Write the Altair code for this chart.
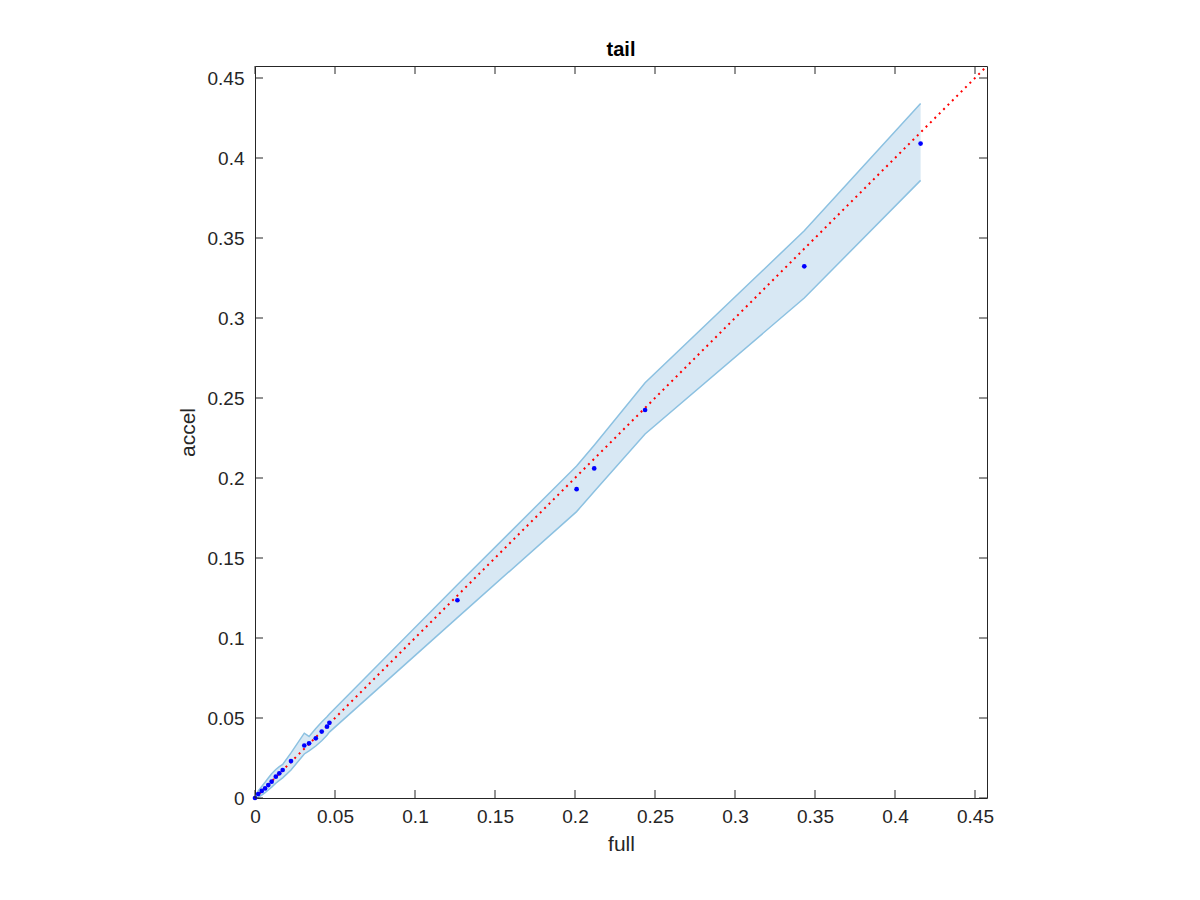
import altair as alt
import pandas as pd

# data
full = [0, 0.002, 0.0042, 0.0063, 0.0083, 0.0104, 0.013, 0.0152, 0.0173, 0.0225,
        0.0308, 0.0338, 0.038, 0.0417, 0.045, 0.0465, 0.1265, 0.201, 0.212,
        0.2438, 0.3433, 0.416]
accel = [0, 0.0025, 0.0044, 0.006, 0.0081, 0.0102, 0.0133, 0.0154, 0.0175, 0.0231,
         0.0328, 0.0342, 0.0373, 0.0415, 0.0446, 0.047, 0.1236, 0.193, 0.206,
         0.2425, 0.3323, 0.409]
upper = [0, 0.0045, 0.0072, 0.0098, 0.0125, 0.0152, 0.0178, 0.0196, 0.021, 0.0282,
         0.0405, 0.0385, 0.0435, 0.0475, 0.0508, 0.0525, 0.1333, 0.2075, 0.2205,
         0.2595, 0.3545, 0.434]
lower = [0, 0.0005, 0.0018, 0.0033, 0.005, 0.0068, 0.0092, 0.011, 0.0126, 0.0175,
         0.0275, 0.0295, 0.0325, 0.0358, 0.0392, 0.0412, 0.1127, 0.179, 0.1915,
         0.2275, 0.3125, 0.386]
ticks = [0, 0.05, 0.1, 0.15, 0.2, 0.25, 0.3, 0.35, 0.4, 0.45]
lim = [0, 0.4575]

W = 732
H = 732
FONT = "Liberation Sans"
AX = "#262626"

df = pd.DataFrame({"full": full, "accel": accel, "upper": upper, "lower": lower})
diag = pd.DataFrame({"full": lim, "accel": lim})
tk = pd.DataFrame({"t": ticks})

xs = alt.Scale(domain=lim, nice=False, zero=False)
ys = alt.Scale(domain=lim, nice=False, zero=False)

xax = alt.Axis(values=ticks, format="~g", domain=False, ticks=False, grid=False,
               labelPadding=9, title="full", titlePadding=7, labelFlush=False)
yax = alt.Axis(values=ticks, format="~g", domain=False, ticks=False, grid=False,
               labelPadding=11, title="accel", titlePadding=9, labelFlush=False)

base = alt.Chart(df)

band = base.mark_area(color="#d8e8f4", opacity=1).encode(
    x=alt.X("full:Q", scale=xs, axis=xax),
    y=alt.Y("upper:Q", scale=ys, axis=yax),
    y2="lower:Q",
)
up = base.mark_line(color="#8cc1e1", strokeWidth=1.5).encode(
    x=alt.X("full:Q", scale=xs), y=alt.Y("upper:Q", scale=ys))
lo = base.mark_line(color="#8cc1e1", strokeWidth=1.5).encode(
    x=alt.X("full:Q", scale=xs), y=alt.Y("lower:Q", scale=ys))

dline = alt.Chart(diag).mark_line(color="#ff0000", strokeWidth=2,
                                  strokeDash=[2, 4.2], clip=True).encode(
    x=alt.X("full:Q", scale=xs), y=alt.Y("accel:Q", scale=ys))

pts = base.mark_circle(color="#0000ff", size=22, opacity=1).encode(
    x=alt.X("full:Q", scale=xs), y=alt.Y("accel:Q", scale=ys))

tb = alt.Chart(tk).mark_rule(color=AX, strokeWidth=1).encode(
    x=alt.X("t:Q", scale=xs), y=alt.value(H), y2=alt.value(H - 8))
tt = alt.Chart(tk).mark_rule(color=AX, strokeWidth=1).encode(
    x=alt.X("t:Q", scale=xs), y=alt.value(0), y2=alt.value(8))
tl = alt.Chart(tk).mark_rule(color=AX, strokeWidth=1).encode(
    y=alt.Y("t:Q", scale=ys), x=alt.value(0), x2=alt.value(8))
tr = alt.Chart(tk).mark_rule(color=AX, strokeWidth=1).encode(
    y=alt.Y("t:Q", scale=ys), x=alt.value(W), x2=alt.value(W - 8))

chart = alt.layer(band, up, lo, dline, pts, tb, tt, tl, tr).properties(
    width=W, height=H,
    title=alt.TitleParams("tail", font=FONT, fontSize=20, fontWeight="bold",
                          color="#000000", offset=6),
    autosize=alt.AutoSizeParams(type="none"),
    padding={"left": 247, "top": 58, "right": 20, "bottom": 60},
).configure_view(stroke=AX, strokeWidth=1).configure_axis(
    labelFont=FONT, labelFontSize=19, labelColor=AX,
    titleFont=FONT, titleFontSize=21, titleColor=AX, titleFontWeight="normal",
)

chart.save("out.html", embed_options={"renderer": "svg", "actions": False})
